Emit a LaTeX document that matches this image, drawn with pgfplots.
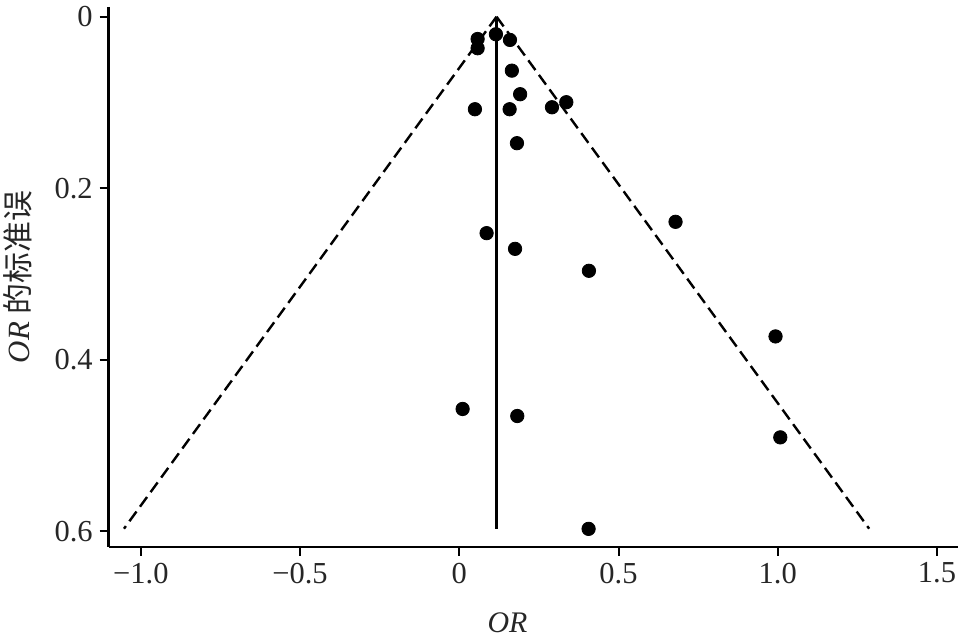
\documentclass[border=0pt]{standalone}
\usepackage{pgfplots}
\pgfplotsset{compat=1.18}
\usepackage{pgfplotstable}
\usepackage{fontspec}
\setmainfont{Liberation Serif}
\newfontfamily\cjk{Noto Sans CJK SC}

\pgfplotstableread{
x y
0.115 0.0205
0.0575 0.0260
0.0575 0.0368
0.159 0.0271
0.165 0.0629
0.191 0.0904
0.049 0.1079
0.158 0.1079
0.291 0.1056
0.336 0.0997
0.181 0.1475
0.679 0.2392
0.0857 0.2524
0.175 0.2707
0.407 0.2963
0.993 0.3728
0.0104 0.4574
0.182 0.4656
1.008 0.4905
0.406 0.5972
}\studies

\pgfplotstableread{
x y
0.117 0.0
-1.053 0.597
}\funnelleft

\pgfplotstableread{
x y
0.117 0.0
1.287 0.597
}\funnelright

\pgfplotstableread{
x y
0.117 0.0
0.117 0.597
}\pooled

\begin{document}
\begin{tikzpicture}
\begin{axis}[
  scale only axis,
  width=424.65bp, height=269.85bp,
  xmin=-1.101, xmax=1.566,
  ymin=-0.0113, ymax=0.618,
  y dir=reverse,
  axis x line*=bottom, axis y line*=left,
  axis line style={line width=1.2bp, black},
  tick align=outside,
  major tick length=4.5bp,
  tick style={line width=1bp, black},
  xtick={-1,-0.5,0,0.5,1,1.5},
  xticklabels={−1.0,−0.5,0,0.5,1.0,1.5},
  ytick={0,0.2,0.4,0.6},
  yticklabels={0,0.2,0.4,0.6},
  ticklabel style={font=\fontsize{15.3}{18}\selectfont, text=black!85},
  xlabel={\textit{OR}},
  ylabel={\textit{OR} {\cjk 的标准误}},
  xlabel style={at={(axis description cs:0.4696,-0.1414)}, anchor=center, font=\fontsize{15}{18}\selectfont, text=black!85},
  ylabel style={at={(axis description cs:-0.1068,0.5)}, anchor=center, font=\fontsize{15.5}{18}\selectfont, text=black!85},
  clip=false,
]
\addplot[black, line width=1.2bp, dash pattern=on 6bp off 3bp] table[x=x,y=y] {\funnelleft};
\addplot[black, line width=1.2bp, dash pattern=on 6bp off 3bp] table[x=x,y=y] {\funnelright};
\addplot[black, line width=1.3bp] table[x=x,y=y] {\pooled};
\addplot[only marks, mark=*, mark size=3.35bp, black] table[x=x,y=y] {\studies};
\end{axis}
\pgfresetboundingbox
\path[use as bounding box] (-54.35bp,-45.65bp) rectangle (426.65bp,273.35bp);
\end{tikzpicture}
\end{document}
